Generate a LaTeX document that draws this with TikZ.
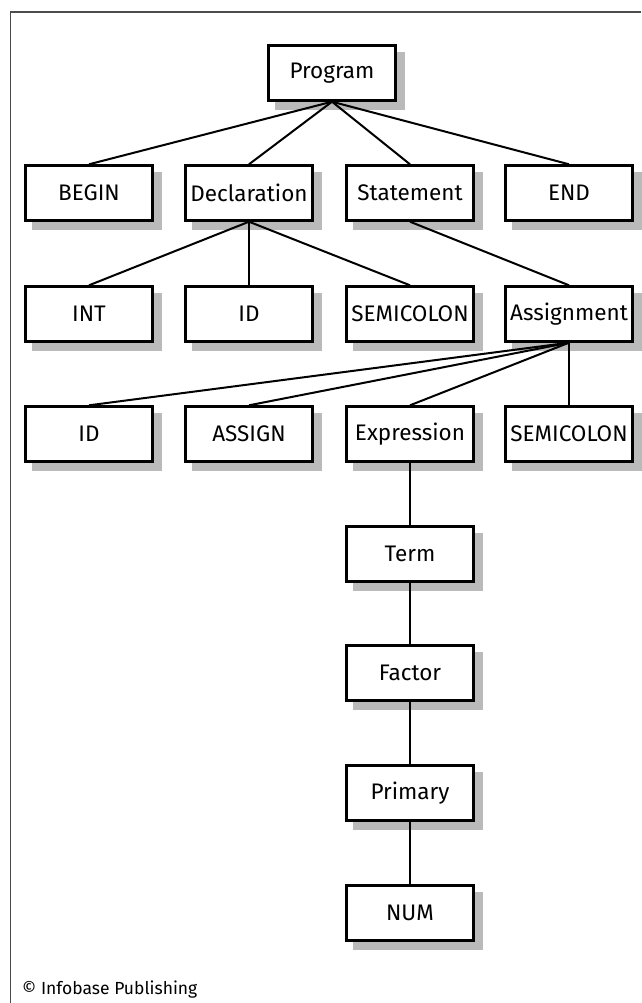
\documentclass[tikz,border=0pt]{standalone}
\usepackage{fontspec}
\setmainfont{Fira Sans}
\usetikzlibrary{backgrounds}
\tikzset{x=1pt, y=-1pt,
    parsebox/.style={
        draw,
        line width=2.4pt,
        fill=white,
        minimum width=127pt,
        minimum height=55pt,
        inner sep=0pt,
        font=\fontsize{22.5}{26}\selectfont},
    boxshadow/.style={
        fill=black!27},
    every edge/.style={
        draw,
        line width=2pt}}

\begin{document}
\begin{tikzpicture}
        \useasboundingbox (0,0) rectangle (641,1003);
        \draw[black!70, line width=1.6pt] (10.5,1003) -- (10.5,12) -- (641,12);

        \node[parsebox] (prog) at (332,73) {Program};

        \node[parsebox] (bgn) at (89,193) {BEGIN};
        \node[parsebox] (decl) at (249,193) {Declaration};
        \node[parsebox] (stmt) at (410,193) {Statement};
        \node[parsebox] (fin) at (569,193) {END};

        \node[parsebox] (int) at (89,314) {INT};
        \node[parsebox] (ida) at (249,314) {ID};
        \node[parsebox] (semia) at (410,314) {SEMICOLON};
        \node[parsebox] (assign) at (569,314) {Assignment};

        \node[parsebox] (idb) at (89,434) {ID};
        \node[parsebox] (asg) at (249,434) {ASSIGN};
        \node[parsebox] (expr) at (410,434) {Expression};
        \node[parsebox] (semib) at (569,434) {SEMICOLON};

        \node[parsebox] (term) at (410,554) {Term};
        \node[parsebox] (fact) at (410,673) {Factor};
        \node[parsebox] (prim) at (410,793) {Primary};
        \node[parsebox] (num) at (410,913) {NUM};

        % shadows behind the boxes
        \begin{pgfonlayer}{background}
            \foreach \n in {prog,bgn,decl,stmt,fin,int,ida,semia,assign,idb,asg,expr,semib,term,fact,prim,num}
                \fill[boxshadow] ([shift={(8,8)}]\n.south west) rectangle ([shift={(8,8)}]\n.north east);
        \end{pgfonlayer}

        \draw (prog.south) edge (bgn.north);
        \draw (prog.south) edge (decl.north);
        \draw (prog.south) edge (stmt.north);
        \draw (prog.south) edge (fin.north);

        \draw (decl.south) edge (int.north);
        \draw (decl.south) edge (ida.north);
        \draw (decl.south) edge (semia.north);
        \draw (stmt.south) edge (assign.north);

        \draw (assign.south) edge (idb.north);
        \draw (assign.south) edge (asg.north);
        \draw (assign.south) edge (expr.north);
        \draw (assign.south) edge (semib.north);

        \draw (expr.south) edge (term.north);
        \draw (term.south) edge (fact.north);
        \draw (fact.south) edge (prim.north);
        \draw (prim.south) edge (num.north);

        \node[anchor=base west, inner sep=0pt, font=\fontsize{17.5}{20}\selectfont] (copy) at (22,994) {© Infobase Publishing};
    \end{tikzpicture}
\end{document}
